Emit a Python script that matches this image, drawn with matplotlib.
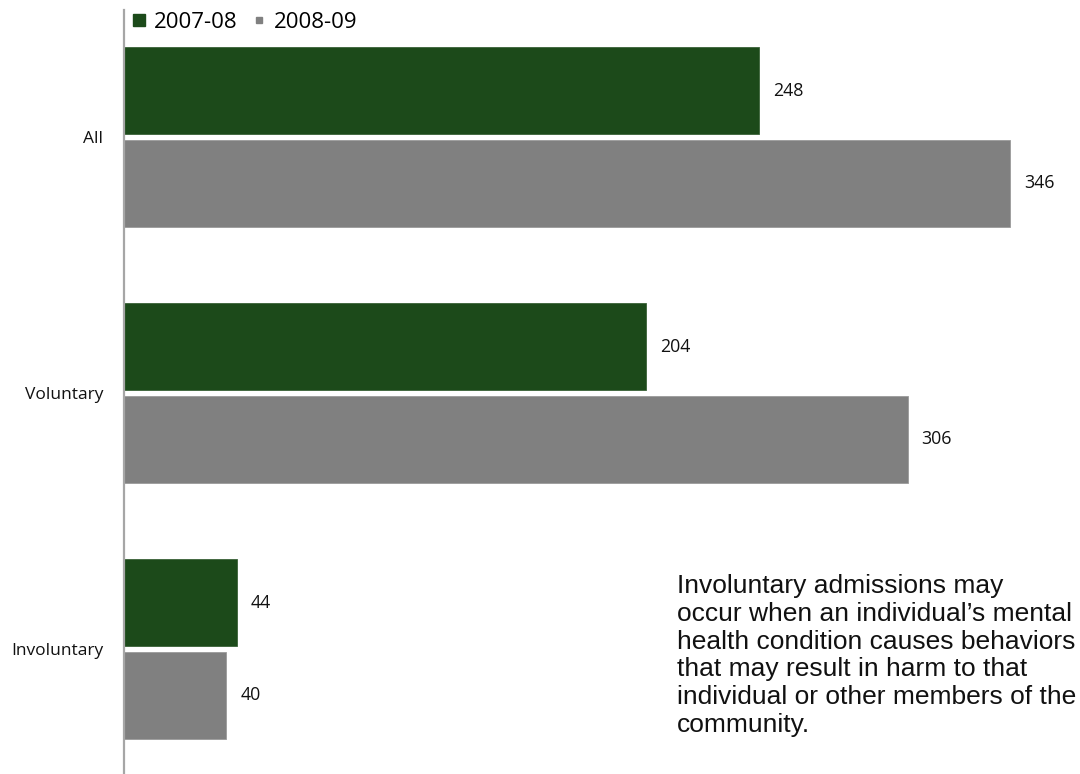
import matplotlib
matplotlib.use("Agg")
import matplotlib.pyplot as plt
from matplotlib.lines import Line2D
import numpy as np

# Admissions by type, two fiscal years
categories = ["All", "Voluntary", "Involuntary"]
series_names = ["2007-08", "2008-09"]
values_0708 = [248, 204, 44]
values_0809 = [346, 306, 40]

GREEN = "#1c4a1a"
GRAY = "#808080"
W, H = 1080, 774

plt.rcParams["font.family"] = ["Open Sans", "DejaVu Sans"]

fig = plt.figure(figsize=(W / 100, H / 100), dpi=100)
ax = fig.add_axes([124 / W, 0, 947.6 / W, 1 - 10 / H])

y = np.arange(len(categories))
bh = 0.34
off = 0.18
b1 = ax.barh(y - off, values_0708, height=bh, color=GREEN, edgecolor="#3a6238", linewidth=0.6)
b2 = ax.barh(y + off, values_0809, height=bh, color=GRAY, edgecolor="#9a9a9a", linewidth=0.6)

for bars, vals in ((b1, values_0708), (b2, values_0809)):
    for rect, v in zip(bars, vals):
        ax.annotate(f"{v}", xy=(v, rect.get_y() + rect.get_height() / 2),
                    xytext=(10, 0), textcoords="offset points",
                    va="center", ha="left", fontsize=12.8, color="#111111")

ax.set_xlim(0, 370)
ax.set_ylim(2.488, -0.496)
ax.set_yticks(y)
ax.set_yticklabels(categories, fontsize=12.5, color="#111111")
ax.tick_params(axis="y", length=0, pad=15)
ax.set_xticks([])
for s in ("top", "right", "bottom"):
    ax.spines[s].set_visible(False)
ax.spines["left"].set_color("#a6a6a6")
ax.spines["left"].set_linewidth(1.6)

handles = [
    Line2D([], [], marker="s", linestyle="none", markersize=8.6, color=GREEN),
    Line2D([], [], marker="s", linestyle="none", markersize=4.3, color=GRAY),
]
fig.legend(handles, series_names, loc="center left",
           bbox_to_anchor=(131 / W, 1 - 22 / H), ncol=2, frameon=False,
           fontsize=16, handlelength=0.75, handletextpad=0.3,
           columnspacing=0.57, borderaxespad=0, borderpad=0)

note = ("Involuntary admissions may\n"
        "occur when an individual\u2019s mental\n"
        "health condition causes behaviors\n"
        "that may result in harm to that\n"
        "individual or other members of the\n"
        "community.")
fig.text(677 / W, 1 - 737 / H, note, ha="left", va="bottom",
         fontsize=19, family=["Liberation Sans", "DejaVu Sans"],
         color="#111111", linespacing=1.2)

fig.savefig("out.png", dpi=100)
